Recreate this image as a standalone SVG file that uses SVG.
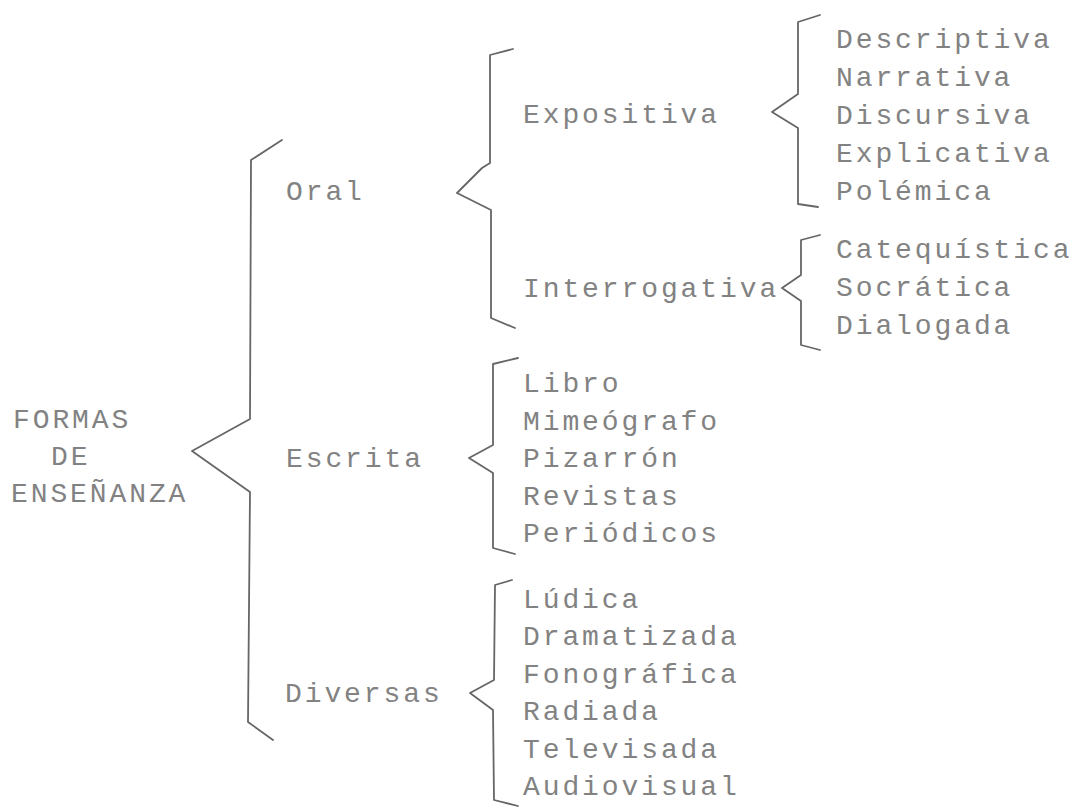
<svg xmlns="http://www.w3.org/2000/svg" width="1076" height="807" viewBox="0 0 1076 807">
<style>
text{font-family:"Liberation Mono","Courier New",monospace;font-size:28px;letter-spacing:2.9px;fill:#828282}
.br{fill:none;stroke:#666666;stroke-width:1.8;stroke-linejoin:round;stroke-linecap:round}
</style>
<rect width="1076" height="807" fill="#ffffff"/>
<g id="connectors">
<path class="br" d="M282,140 L251,160 L250,419 L192,451 L250,492 L248,722 L273,740"/>
<path class="br" d="M513,49 L490,55 L490,163 L482,168 L457,193 L491,210 L491,318 L515,328"/>
<path class="br" d="M820,15 L798,22 L798,94 L772,112 L798,128 L798,204 L818,207"/>
<path class="br" d="M820,235 L801,240 L801,275 L782,288 L801,301 L801,345 L820,350"/>
<path class="br" d="M518,358 L493,364 L493,445 L469,458 L493,473 L493,548 L515,554"/>
<path class="br" d="M512,580 L495,585 L494,680 L470,693 L493,710 L494,800 L518,806"/>
</g>
<g id="root">
<text x="13" y="428">FORMAS</text>
<text x="51" y="465">DE</text>
<text x="11" y="502">ENSEÑANZA</text>
</g>
<g id="oral"><text x="286" y="200">Oral</text></g>
<g id="escrita"><text x="286" y="467">Escrita</text></g>
<g id="diversas"><text x="285" y="702">Diversas</text></g>
<g id="expositiva"><text x="523" y="123">Expositiva</text></g>
<g id="interrogativa"><text x="523" y="297">Interrogativa</text></g>
<g id="expositiva-items">
<text x="836" y="48">Descriptiva</text>
<text x="836" y="86">Narrativa</text>
<text x="836" y="124">Discursiva</text>
<text x="836" y="162">Explicativa</text>
<text x="836" y="200">Polémica</text>
</g>
<g id="interrogativa-items">
<text x="836" y="258">Catequística</text>
<text x="836" y="296">Socrática</text>
<text x="836" y="334">Dialogada</text>
</g>
<g id="escrita-items">
<text x="523" y="392">Libro</text>
<text x="523" y="430">Mimeógrafo</text>
<text x="523" y="467">Pizarrón</text>
<text x="523" y="505">Revistas</text>
<text x="523" y="542">Periódicos</text>
</g>
<g id="diversas-items">
<text x="523" y="608">Lúdica</text>
<text x="523" y="645">Dramatizada</text>
<text x="523" y="683">Fonográfica</text>
<text x="523" y="720">Radiada</text>
<text x="523" y="758">Televisada</text>
<text x="523" y="795">Audiovisual</text>
</g>
</svg>
